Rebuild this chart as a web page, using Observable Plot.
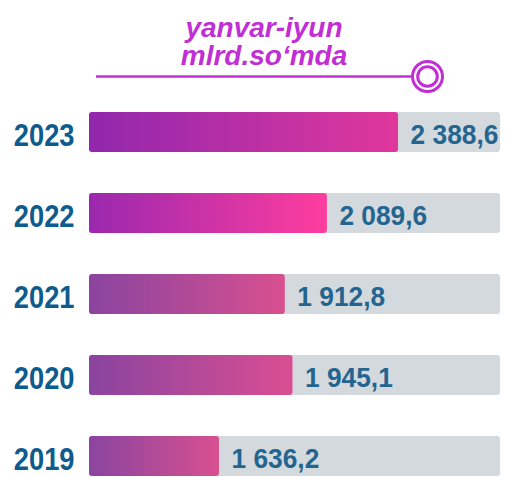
<!DOCTYPE html>
<html>
<head>
<meta charset="utf-8">
<script src="https://cdn.jsdelivr.net/npm/d3@7"></script>
<script src="https://cdn.jsdelivr.net/npm/@observablehq/plot@0.6"></script>
<style>
  html, body { margin: 0; padding: 0; background: #fff; }
  #header { display: block; }
  #chart svg { display: block; }
</style>
</head>
<body>
<svg id="header" width="506" height="95" xmlns="http://www.w3.org/2000/svg">
  <g font-family="'Liberation Sans', Arial, sans-serif" font-weight="bold" font-style="italic" font-size="28" fill="#c12fd4" text-anchor="middle">
    <text x="264" y="37">yanvar-iyun</text>
    <text x="264" y="65">mlrd.so‘mda</text>
  </g>
  <line x1="96" y1="76.5" x2="412" y2="76.5" stroke="#c12fd4" stroke-width="2.5"/>
  <circle cx="427.5" cy="76.5" r="15" fill="#fff" stroke="#c12fd4" stroke-width="3"/>
  <circle cx="427.5" cy="76.5" r="9.8" fill="none" stroke="#c12fd4" stroke-width="3"/>
</svg>
<div id="chart"></div>
<script>
// ---- data ----
const years = ["2023", "2022", "2021", "2020", "2019"];
const values = [2388.6, 2089.6, 1912.8, 1945.1, 1636.2];
// scale extent (value units)
const axisStart = 1090;
const trackEnd = 2817;

// ---- styles ----
const gradStart = ["#9127ad", "#9a28ae", "#8a44a0", "#8a44a0", "#8a44a0"];
const gradEnd   = ["#e0379c", "#ff3d9e", "#d8508f", "#da4e92", "#d8508f"];

const data = years.map((y, i) => ({year: y, value: values[i], i}));
const fmt = d3.formatLocale({decimal: ",", thousands: " ", grouping: [3]}).format(",.1f");
const font = "'Liberation Sans', Arial, sans-serif";

const chart = Plot.plot({
  width: 506,
  height: 382,
  margin: 0,
  style: {fontFamily: font, background: "#fff"},
  x: {domain: [axisStart, trackEnd], range: [89, 500], axis: null},
  y: {domain: years, range: [15, 383], paddingInner: 0.512, paddingOuter: 0, axis: null},
  color: {type: "identity"},
  marks: [
    Plot.barX(data, {y: "year", x1: axisStart, x2: trackEnd, fill: "#d4d9de", rx: 3}),
    Plot.barX(data, {y: "year", x1: axisStart, x2: "value", fill: d => `url(#grad${d.year})`, rx: 3}),
    Plot.text(data, {y: "year", x: axisStart, text: "year", textAnchor: "end", dx: -15, dy: 4,
      fontSize: 31, fontWeight: "bold", fill: "#0e5b8d"}),
    Plot.text(data, {y: "year", x: "value", text: d => fmt(d.value), textAnchor: "start", dx: 12, dy: 3,
      fontSize: 28, fontWeight: "bold", fill: "#246590"})
  ]
});

// gradient definitions
const ns = "http://www.w3.org/2000/svg";
const defs = document.createElementNS(ns, "defs");
years.forEach((y, i) => {
  const g = document.createElementNS(ns, "linearGradient");
  g.setAttribute("id", "grad" + y);
  g.setAttribute("x1", "0"); g.setAttribute("x2", "1");
  g.setAttribute("y1", "0"); g.setAttribute("y2", "0");
  [[0, gradStart[i]], [1, gradEnd[i]]].forEach(([o, c]) => {
    const s = document.createElementNS(ns, "stop");
    s.setAttribute("offset", o);
    s.setAttribute("stop-color", c);
    g.appendChild(s);
  });
  defs.appendChild(g);
});
chart.insertBefore(defs, chart.firstChild);
document.getElementById("chart").appendChild(chart);

// condense label glyphs slightly (reference uses a narrow bold face)
const condense = [0.88, 0.94];
chart.querySelectorAll('g[aria-label="text"]').forEach((g, k) => {
  g.querySelectorAll("text").forEach(t => {
    const w = t.getComputedTextLength();
    t.setAttribute("textLength", (w * condense[k]).toFixed(1));
    t.setAttribute("lengthAdjust", "spacingAndGlyphs");
  });
});
</script>
</body>
</html>
